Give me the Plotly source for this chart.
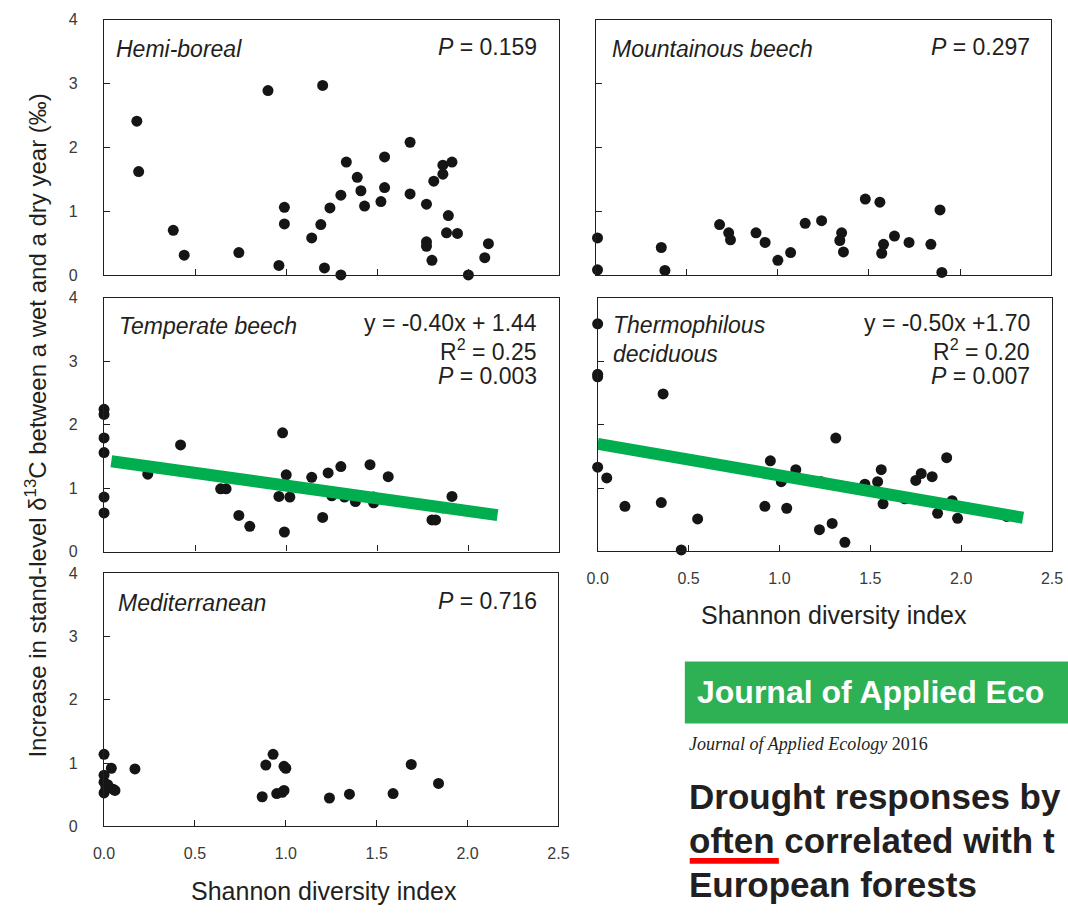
import plotly.graph_objects as go

W, H = 1068, 914

# ---- data: Shannon diversity index (x) vs increase in stand-level d13C (y, per mil) ----
hemi_x = [0.18, 0.19, 0.38, 0.44, 0.74, 0.90, 0.96, 0.99, 0.99, 1.14, 1.19, 1.20, 1.21,
          1.24, 1.30, 1.30, 1.33, 1.39, 1.41, 1.43, 1.52, 1.54, 1.54, 1.68, 1.68, 1.77,
          1.77, 1.77, 1.80, 1.81, 1.86, 1.86, 1.91, 1.89, 1.88, 1.94, 2.00, 2.09, 2.11]
hemi_y = [2.41, 1.62, 0.70, 0.31, 0.35, 2.89, 0.15, 1.06, 0.80, 0.58, 0.79, 2.97, 0.11,
          1.05, 0.00, 1.25, 1.77, 1.53, 1.32, 1.08, 1.15, 1.37, 1.85, 2.08, 1.27, 1.11,
          0.52, 0.45, 0.23, 1.47, 1.72, 1.58, 1.77, 0.93, 0.66, 0.65, 0.00, 0.27, 0.49]

mount_x = [0.01, 0.01, 0.36, 0.38, 0.68, 0.73, 0.74, 0.88, 0.93, 1.00, 1.07, 1.15, 1.24,
           1.35, 1.34, 1.36, 1.48, 1.56, 1.58, 1.57, 1.64, 1.72, 1.84, 1.89, 1.90]
mount_y = [0.58, 0.08, 0.43, 0.07, 0.79, 0.66, 0.55, 0.66, 0.51, 0.23, 0.35, 0.81, 0.85,
           0.66, 0.54, 0.36, 1.19, 1.14, 0.48, 0.34, 0.61, 0.51, 0.48, 1.02, 0.04]

temp_x = [0.00, 0.00, 0.00, 0.00, 0.00, 0.00, 0.24, 0.42, 0.64, 0.67, 0.74, 0.80, 0.96,
          0.98, 0.99, 1.00, 1.02, 1.14, 1.20, 1.23, 1.25, 1.30, 1.32, 1.38, 1.46, 1.48,
          1.48, 1.56, 1.80, 1.82, 1.86, 1.91]
temp_y = [2.24, 2.16, 1.79, 1.56, 0.86, 0.61, 1.22, 1.68, 0.99, 0.99, 0.57, 0.40, 0.87,
          1.87, 0.31, 1.21, 0.86, 1.17, 0.54, 1.24, 0.88, 1.34, 0.86, 0.79, 1.37, 0.86,
          0.77, 1.18, 0.50, 0.50, 0.69, 0.87]

thermo_x = [0.00, 0.00, 0.00, 0.00, 0.05, 0.15, 0.35, 0.36, 0.46, 0.55, 0.92, 0.95, 1.01,
            1.04, 1.09, 1.22, 1.23, 1.29, 1.31, 1.36, 1.47, 1.54, 1.56, 1.57, 1.69, 1.75,
            1.78, 1.84, 1.87, 1.92, 1.95, 1.98, 2.25]
thermo_y = [3.60, 2.80, 2.76, 1.33, 1.16, 0.71, 0.77, 2.49, 0.02, 0.51, 0.71, 1.43, 1.10,
            0.68, 1.29, 0.34, 1.10, 0.44, 1.79, 0.14, 1.06, 1.10, 1.29, 0.75, 0.83, 1.12,
            1.23, 1.18, 0.60, 1.48, 0.80, 0.52, 0.55]

medit_x = [0.00, 0.00, 0.00, 0.00, 0.01, 0.02, 0.04, 0.05, 0.06, 0.17, 0.87, 0.89, 0.93,
           0.95, 0.98, 0.99, 0.99, 1.00, 1.24, 1.35, 1.59, 1.69, 1.84]
medit_y = [1.14, 0.81, 0.70, 0.53, 0.61, 0.66, 0.92, 0.59, 0.57, 0.91, 0.47, 0.97, 1.14,
           0.52, 0.54, 0.57, 0.95, 0.92, 0.45, 0.51, 0.52, 0.98, 0.68]

# fitted regressions (slope, intercept) and the x extent over which they are drawn
temp_fit = (-0.40, 1.44)
temp_fit_x = [0.04, 2.16]
thermo_fit = (-0.50, 1.70)
thermo_fit_x = [0.0, 2.34]

x_ticks = [0, 0.5, 1.0, 1.5, 2.0, 2.5]
x_tick_text = ["0.0", "0.5", "1.0", "1.5", "2.0", "2.5"]
y_ticks = [0, 1, 2, 3, 4]

INK = "#231f20"
GREEN = "#00ad4f"
FONT = "Liberation Sans, Arial, sans-serif"


def fx(p):
    return p / W


def fy(p):
    return 1 - p / H


# panel frames in pixels: (left, right, top, bottom)
panels = [
    dict(x=hemi_x, y=hemi_y, box=(95, 560, 12, 272), ylab=True, xlab=False),
    dict(x=mount_x, y=mount_y, box=(597, 1062, 12, 272), ylab=False, xlab=False),
    dict(x=temp_x, y=temp_y, box=(95, 560, 295, 554), ylab=True, xlab=False,
         fit=temp_fit, fit_x=temp_fit_x),
    dict(x=thermo_x, y=thermo_y, box=(599, 1063, 296, 553.5), ylab=False, xlab=True,
         fit=thermo_fit, fit_x=thermo_fit_x),
    dict(x=medit_x, y=medit_y, box=(95, 559, 576, 834), ylab=True, xlab=True),
]

fig = go.Figure()
layout = dict(
    width=W, height=H, margin=dict(l=0, r=0, t=0, b=0),
    paper_bgcolor="white", plot_bgcolor="white", showlegend=False,
    font=dict(family=FONT, color=INK),
)

for i, p in enumerate(panels, start=1):
    sx = "" if i == 1 else str(i)
    l, r, t, b = p["box"]
    fig.add_trace(go.Scatter(
        x=p["x"], y=p["y"], mode="markers", xaxis="x" + sx, yaxis="y" + sx,
        marker=dict(size=11, color="#151515", line=dict(width=0)),
        cliponaxis=False, hoverinfo="skip"))
    if "fit" in p:
        slope, icpt = p["fit"]
        fxs = p["fit_x"]
        fig.add_trace(go.Scatter(
            x=fxs, y=[icpt + slope * v for v in fxs], mode="lines",
            xaxis="x" + sx, yaxis="y" + sx,
            line=dict(color=GREEN, width=12), hoverinfo="skip"))
    common = dict(showline=True, mirror=True, linecolor=INK, linewidth=1.4,
                  ticks="inside", ticklen=6, tickwidth=1.2, tickcolor=INK,
                  showgrid=False, zeroline=False,
                  tickfont=dict(family=FONT, size=16, color="#3a3a3a"))
    layout["xaxis" + sx] = dict(
        common, domain=[fx(l), fx(r)], anchor="y" + sx, range=[0, 2.5],
        tickvals=x_ticks, ticktext=x_tick_text, showticklabels=p["xlab"],
        ticklabelstandoff=12)
    layout["yaxis" + sx] = dict(
        common, domain=[fy(b), fy(t)], anchor="x" + sx, range=[0, 4],
        tickvals=y_ticks, showticklabels=p["ylab"], ticklabelstandoff=22)

fig.update_layout(**layout)


def note(text, x, y, anchor="left", size=23, **kw):
    fig.add_annotation(text=text, x=fx(x), y=fy(y), xref="paper", yref="paper",
                       xanchor=anchor, yanchor="middle", showarrow=False,
                       font=dict(family=kw.pop("family", FONT), size=size,
                                 color=kw.pop("color", INK)), **kw)


# panel names
note("<i>Hemi-boreal</i>", 105, 42)
note("<i>Mountainous beech</i>", 612, 42)
note("<i>Temperate beech</i>", 108, 324)
note("<i>Thermophilous</i>", 613, 323)
note("<i>deciduous</i>", 613, 353)
note("<i>Mediterranean</i>", 107, 606)

# statistics
note("<i>P</i> = 0.159", 539, 40, anchor="right")
note("<i>P</i> = 0.297", 1042, 40, anchor="right")
note("y = -0.40x + 1.44", 539, 321, anchor="right")
note("R<sup>2</sup> = 0.25", 539, 348, anchor="right")
note("<i>P</i> = 0.003", 539, 375, anchor="right")
note("y = -0.50x +1.70", 1042, 321, anchor="right")
note("R<sup>2</sup> = 0.20", 1042, 348, anchor="right")
note("<i>P</i> = 0.007", 1042, 375, anchor="right")
note("<i>P</i> = 0.716", 539, 604, anchor="right")

# axis titles
note("Shannon diversity index", 840, 618, anchor="center", size=25)
note("Shannon diversity index", 320, 900, anchor="center", size=25)
note("Increase in stand-level δ<sup>13</sup>C between a wet and a dry year (‰)",
     26, 425, anchor="center", size=24, textangle=-90)

# journal header block
fig.add_shape(type="rect", xref="paper", yref="paper",
              x0=fx(688), x1=fx(1080), y0=fy(729), y1=fy(666),
              fillcolor="#2eb155", line=dict(width=0), layer="above")
note("<b>Journal of Applied Eco</b>", 698, 697, size=32, color="white")
note("<i>Journal of Applied Ecology</i> 2016", 690, 750, size=18,
     family="Liberation Serif, Times New Roman, serif")
note("<b>Drought responses by</b>", 690, 803, size=35)
note("<b>often correlated with t</b>", 690, 848, size=35)
note("<b>European forests</b>", 690, 893, size=35)
fig.add_shape(type="rect", xref="paper", yref="paper",
              x0=fx(693), x1=fx(784), y0=fy(872), y1=fy(866),
              fillcolor="#ff0000", line=dict(width=0), layer="above")

fig.write_html("out.html")
